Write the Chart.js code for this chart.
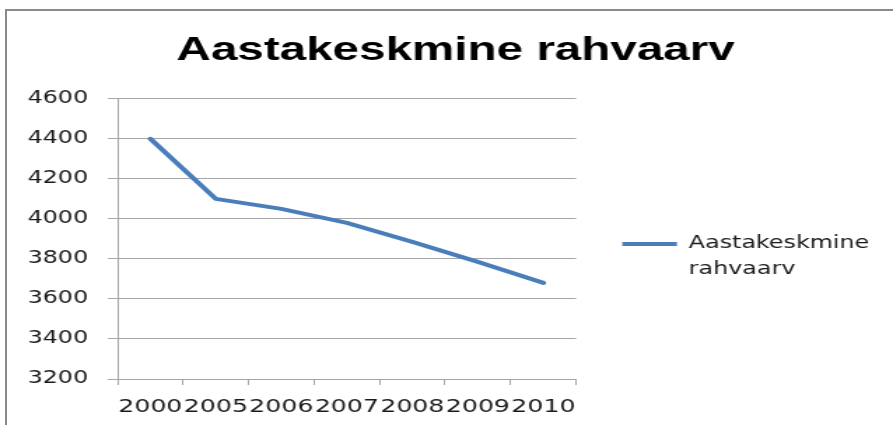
<!DOCTYPE html>
<html>
<head>
<meta charset="utf-8">
<script src="https://cdn.jsdelivr.net/npm/chart.js@4"></script>
<style>
  body { margin: 0; background: #fff; }
  #frame { position: absolute; left: 5px; top: 9px; width: 900px; height: 430px;
           border-top: 2px solid #8a8a8a; border-left: 2px solid #8a8a8a; }
  /* the reference picture is stretched sideways, so the canvas is too */
  #graf { position: absolute; left: 0; top: 0; width: 893px; height: 425px; }
</style>
</head>
<body>
<div id="frame"></div>
<canvas id="graf" width="638" height="425" style="width:893px;height:425px"></canvas>
<script>
// Aastakeskmine rahvaarv
const aastad = ['2000', '2005', '2006', '2007', '2008', '2009', '2010'];
const rahvaarv = [4400, 4100, 4050, 3980, 3885, 3785, 3680];
const seeriaNimi = 'Aastakeskmine rahvaarv';
const yMin = 3200, yMax = 4600, ySamm = 200;

const sinine = '#4a7ebb';
const hall = '#a6a6a6';

new Chart(document.getElementById('graf'), {
  type: 'line',
  data: {
    labels: aastad,
    datasets: [{
      label: seeriaNimi,
      data: rahvaarv,
      borderColor: sinine,
      backgroundColor: sinine,
      borderWidth: 4,
      borderCapStyle: 'round',
      borderJoinStyle: 'round',
      pointRadius: 0,
      tension: 0,
      fill: false
    }]
  },
  options: {
    responsive: false,
    animation: false,
    layout: { padding: { left: 20, right: 7, top: 0, bottom: 0 } },
    plugins: {
      title: {
        display: true,
        text: seeriaNimi,
        color: '#000',
        font: { family: 'Liberation Sans', size: 34, weight: 'bold', lineHeight: 1.2 },
        padding: { top: 30, bottom: 28 }
      },
      legend: {
        position: 'right',
        fullSize: false,
        maxWidth: 240,
        title: { display: true, text: '', font: { size: 10 }, padding: { top: 0, bottom: 32 } },
        labels: {
          usePointStyle: true,
          pointStyle: 'line',
          pointStyleWidth: 39,
          boxWidth: 39,
          boxHeight: 12,
          padding: 33,
          color: '#1a1a1a',
          font: { family: 'DejaVu Sans', size: 17, lineHeight: 1.5 },
          generateLabels: (chart) => {
            const items = Chart.defaults.plugins.legend.labels.generateLabels(chart);
            items.forEach(it => { it.text = it.text.split(' '); });
            return items;
          }
        }
      },
      tooltip: { enabled: false }
    },
    scales: {
      x: {
        offset: true,
        grid: { display: true, drawOnChartArea: false, offset: true, color: hall, tickLength: 6 },
        border: { color: hall, width: 1 },
        ticks: { autoSkip: false, maxRotation: 0, padding: 12, color: '#1a1a1a',
                 font: { family: 'DejaVu Sans', size: 18 } },
        afterFit: (s) => { s.height = 46; }
      },
      y: {
        min: yMin,
        max: yMax,
        grid: { color: hall, tickLength: 7 },
        border: { color: hall, width: 1 },
        ticks: { stepSize: ySamm, padding: 14, color: '#1a1a1a',
                 font: { family: 'DejaVu Sans', size: 17 },
                 callback: (v) => String(v) },
        afterFit: (s) => { s.width = 64; }
      }
    }
  }
});
</script>
</body>
</html>
